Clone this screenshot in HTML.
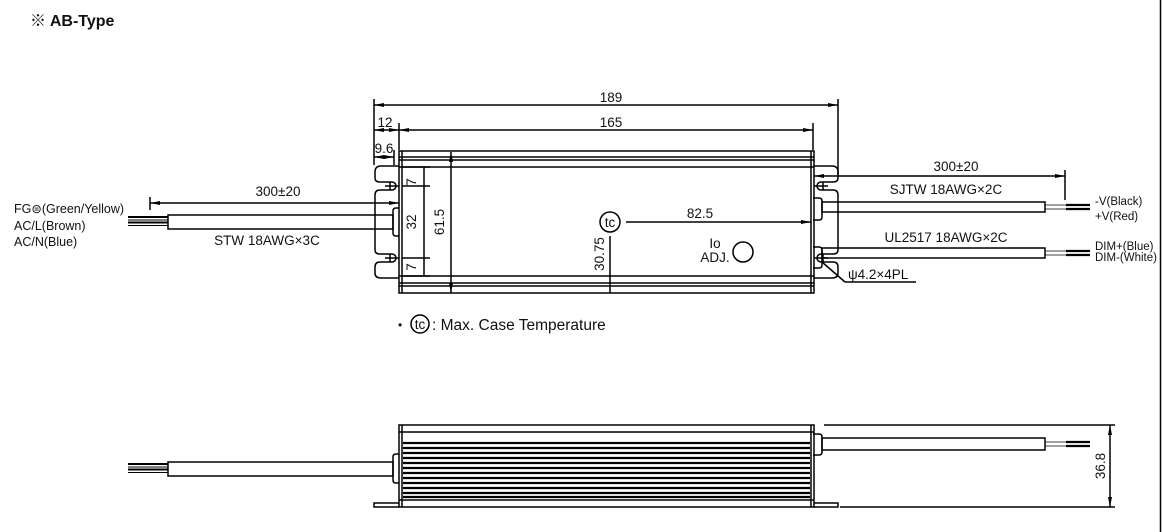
<!DOCTYPE html>
<html><head><meta charset="utf-8"><style>
html,body{margin:0;padding:0;background:#fff}
svg{display:block}
text{font-family:"Liberation Sans","Noto Sans CJK JP",sans-serif;fill:#111}
</style></head><body>
<svg width="1162" height="532" viewBox="0 0 1162 532" xmlns="http://www.w3.org/2000/svg">
<defs>
<marker id="a" viewBox="0 0 10 6" refX="10" refY="3" markerWidth="10" markerHeight="6" orient="auto-start-reverse" markerUnits="userSpaceOnUse"><path d="M0,1 L10,3 L0,5z" fill="#000"/></marker>
</defs>
<text x="30" y="26" font-size="16" font-weight="bold">※ AB-Type</text>
<line x1="1160.5" y1="0" x2="1160.5" y2="532" stroke="#000" stroke-width="1.5"/>
<g stroke="#000" fill="none" stroke-width="1.5">
<line x1="374" y1="99" x2="374" y2="165"/>
<line x1="838" y1="99" x2="838" y2="175"/>
<line x1="399" y1="123" x2="399" y2="150"/>
<line x1="813" y1="123" x2="813" y2="150"/>
<line x1="374" y1="105" x2="838" y2="105" marker-start="url(#a)" marker-end="url(#a)"/>
<line x1="399" y1="130" x2="813" y2="130" marker-start="url(#a)" marker-end="url(#a)"/>
<line x1="374" y1="130" x2="399" y2="130" marker-start="url(#a)" marker-end="url(#a)"/>
<line x1="394" y1="150" x2="394" y2="165"/>
<line x1="374" y1="157" x2="394" y2="157" marker-start="url(#a)" marker-end="url(#a)"/>
<rect x="399" y="151" width="415" height="142"/>
<line x1="402" y1="151" x2="402" y2="293"/>
<line x1="811" y1="151" x2="811" y2="293"/>
<line x1="399" y1="157" x2="814" y2="157"/>
<line x1="399" y1="160" x2="814" y2="160"/>
<line x1="399" y1="167" x2="814" y2="167"/>
<line x1="399" y1="276" x2="814" y2="276"/>
<line x1="399" y1="283" x2="814" y2="283"/>
<line x1="399" y1="286" x2="814" y2="286"/>
<path d="M399,166 H381 Q375,166 375,172 V178 Q375,182 380,182 H392 A4,4 0 0 1 392,190 H380 Q375,190 375,195 V250 Q375,254 380,254 H392 A4,4 0 0 1 392,262 H380 Q375,262 375,267 V273 Q375,278 381,278 H399"/>
<path d="M385,186 H399 M390,182 V190 M385,258 H399 M390,254 V262"/>
<path d="M814,166 H832 Q838,166 838,172 V178 Q838,182 833,182 H821 A4,4 0 0 0 821,190 H833 Q838,190 838,195 V250 Q838,254 833,254 H821 A4,4 0 0 0 821,262 H833 Q838,262 838,267 V273 Q838,278 832,278 H814"/>
<path d="M814,186 H828 M823,182 V190 M814,258 H828 M823,254 V262"/>
<path d="M399,208 H396 Q393,208 393,211 V233 Q393,236 396,236 H399"/>
<rect x="168" y="215" width="225" height="14"/>
<line x1="128" y1="217" x2="168" y2="217" stroke-width="2"/>
<line x1="128" y1="220" x2="168" y2="220" stroke-width="1"/>
<line x1="128" y1="222.5" x2="168" y2="222.5" stroke-width="2"/>
<line x1="128" y1="225.5" x2="168" y2="225.5" stroke-width="1"/>
<line x1="150" y1="197" x2="150" y2="210"/>
<line x1="150" y1="203" x2="399" y2="203" marker-start="url(#a)" marker-end="url(#a)"/>
<path d="M813,198 H819 Q822,198 822,201 V217 Q822,220 819,220 H813"/>
<path d="M813,247 H819 Q822,247 822,250 V265 Q822,268 819,268 H813"/>
<rect x="822" y="202" width="223" height="10"/>
<rect x="822" y="248" width="223" height="10"/>
<line x1="1045" y1="205" x2="1066" y2="205" stroke-width="0.8"/>
<line x1="1045" y1="209" x2="1066" y2="209" stroke-width="0.8"/>
<line x1="1066" y1="205" x2="1090" y2="205" stroke-width="2.2"/>
<line x1="1066" y1="209" x2="1090" y2="209" stroke-width="2.2"/>
<line x1="1045" y1="251" x2="1066" y2="251" stroke-width="0.8"/>
<line x1="1045" y1="255" x2="1066" y2="255" stroke-width="0.8"/>
<line x1="1066" y1="251" x2="1090" y2="251" stroke-width="2.2"/>
<line x1="1066" y1="255" x2="1090" y2="255" stroke-width="2.2"/>
<line x1="1065" y1="170" x2="1065" y2="200"/>
<line x1="814" y1="176" x2="1065" y2="176" marker-start="url(#a)" marker-end="url(#a)"/>
<line x1="822" y1="262" x2="845" y2="282"/>
<line x1="845" y1="282" x2="916" y2="282"/>
<line x1="402" y1="167" x2="430" y2="167"/>
<line x1="402" y1="186" x2="430" y2="186"/>
<line x1="402" y1="258" x2="430" y2="258"/>
<line x1="402" y1="276" x2="430" y2="276"/>
<line x1="424" y1="167" x2="424" y2="276"/>
<line x1="451" y1="152" x2="451" y2="293" marker-start="url(#a)" marker-end="url(#a)"/>
<circle cx="610" cy="222" r="10"/>
<line x1="626" y1="222" x2="811" y2="222" marker-end="url(#a)"/>
<line x1="610" y1="236" x2="610" y2="293"/>
<circle cx="743" cy="252" r="10"/>
<circle cx="420" cy="324" r="9"/>
<rect x="399" y="425" width="415" height="82"/>
<line x1="402" y1="425" x2="402" y2="507"/>
<line x1="811" y1="425" x2="811" y2="507"/>
<line x1="399" y1="432" x2="814" y2="432"/>
<line x1="399" y1="500" x2="814" y2="500"/>
<path d="M399,503 H374 V507 H399 M814,503 H838 V507 H814"/>
<path d="M399,454 H396 Q393,454 393,457 V480 Q393,483 396,483 H399"/>
<rect x="168" y="462" width="225" height="14"/>
<line x1="128" y1="464" x2="168" y2="464" stroke-width="2"/>
<line x1="128" y1="467" x2="168" y2="467" stroke-width="1"/>
<line x1="128" y1="469.5" x2="168" y2="469.5" stroke-width="2"/>
<line x1="128" y1="472.5" x2="168" y2="472.5" stroke-width="1"/>
<path d="M813,434 H819 Q822,434 822,437 V452 Q822,455 819,455 H813"/>
<rect x="822" y="438" width="223" height="12"/>
<line x1="1045" y1="442" x2="1066" y2="442" stroke-width="0.8"/>
<line x1="1045" y1="446" x2="1066" y2="446" stroke-width="0.8"/>
<line x1="1066" y1="442" x2="1090" y2="442" stroke-width="2.2"/>
<line x1="1066" y1="446" x2="1090" y2="446" stroke-width="2.2"/>
<line x1="824" y1="425" x2="1115" y2="425"/>
<line x1="840" y1="507" x2="1115" y2="507"/>
<line x1="1110" y1="425" x2="1110" y2="507" marker-start="url(#a)" marker-end="url(#a)"/>
</g>
<g stroke="#000" stroke-width="2.2">
<line x1="403" y1="443" x2="810" y2="443"/><line x1="403" y1="448" x2="810" y2="448"/>
<line x1="403" y1="453" x2="810" y2="453"/><line x1="403" y1="458" x2="810" y2="458"/>
<line x1="403" y1="463" x2="810" y2="463"/><line x1="403" y1="468" x2="810" y2="468"/>
<line x1="403" y1="473" x2="810" y2="473"/><line x1="403" y1="478" x2="810" y2="478"/>
<line x1="403" y1="483" x2="810" y2="483"/><line x1="403" y1="488" x2="810" y2="488"/>
<line x1="403" y1="493" x2="810" y2="493"/><line x1="403" y1="497" x2="810" y2="497"/>
</g>
<g font-size="13.5">
<text x="611" y="102" text-anchor="middle">189</text>
<text x="611" y="127" text-anchor="middle">165</text>
<text x="385" y="127" text-anchor="middle">12</text>
<text x="384" y="153" text-anchor="middle">9.6</text>
<text x="278" y="196" text-anchor="middle">300±20</text>
<text x="956" y="171" text-anchor="middle">300±20</text>
<text x="267" y="245" text-anchor="middle">STW 18AWG×3C</text>
<text x="946" y="194" text-anchor="middle">SJTW 18AWG×2C</text>
<text x="946" y="242" text-anchor="middle">UL2517 18AWG×2C</text>
<text x="14" y="213" font-size="12.5">FG⊜(Green/Yellow)</text>
<text x="14" y="230" font-size="12.5">AC/L(Brown)</text>
<text x="14" y="246" font-size="12.5">AC/N(Blue)</text>
<text x="1095" y="205" font-size="11.5">-V(Black)</text>
<text x="1095" y="220" font-size="11.5">+V(Red)</text>
<text x="1095" y="250" font-size="11.5">DIM+(Blue)</text>
<text x="1095" y="261" font-size="11.5">DIM-(White)</text>
<text x="700" y="218" text-anchor="middle">82.5</text>
<text x="610" y="227" text-anchor="middle">tc</text>
<text x="715" y="248" text-anchor="middle">Io</text>
<text x="715" y="262" text-anchor="middle">ADJ.</text>
<text x="848" y="279">ψ4.2×4PL</text>
<text transform="translate(416,182) rotate(-90)" text-anchor="middle">7</text>
<text transform="translate(416,267) rotate(-90)" text-anchor="middle">7</text>
<text transform="translate(416,222) rotate(-90)" text-anchor="middle">32</text>
<text transform="translate(444,222) rotate(-90)" text-anchor="middle">61.5</text>
<text transform="translate(604,254) rotate(-90)" text-anchor="middle">30.75</text>
<text transform="translate(1105,466) rotate(-90)" text-anchor="middle">36.8</text>
<text x="398" y="329" font-size="12">•</text>
<text x="420" y="329" text-anchor="middle">tc</text>
<text x="432" y="330" font-size="15.5">: Max. Case Temperature</text>
</g>
</svg>
</body></html>
